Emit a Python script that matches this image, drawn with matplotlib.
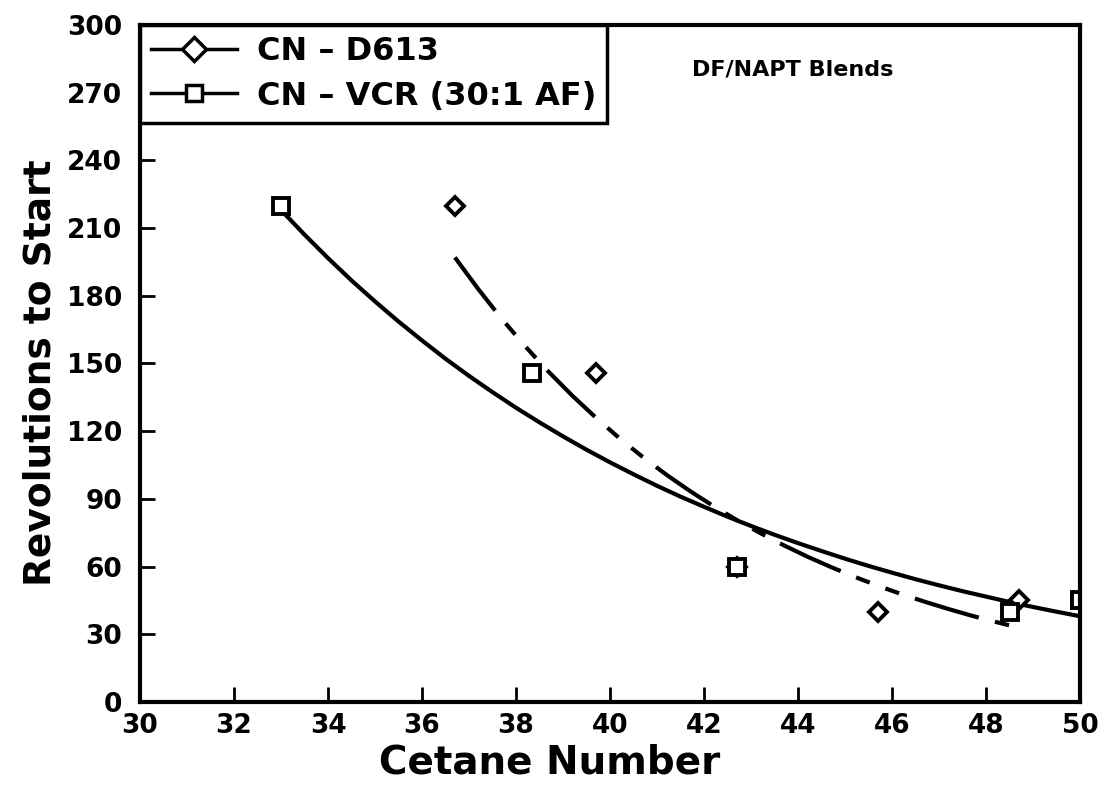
import matplotlib

matplotlib.use("Agg")
import matplotlib.pyplot as plt
from matplotlib.lines import Line2D

plt.rcParams["font.family"] = ["DejaVu Sans"]
plt.rcParams["font.weight"] = "bold"

# Measured points (Cetane Number, Revolutions to Start)
d613_cn = [36.7, 39.7, 42.7, 45.7, 48.7]
d613_rev = [220, 146, 60, 40, 45]
vcr_cn = [33.0, 38.35, 42.7, 48.5, 50.0]
vcr_rev = [220, 146, 60, 40, 45]

# Fitted curves
vcr_fit_cn = [33, 33.5, 34, 34.5, 35, 35.5, 36, 36.5, 37, 37.5, 38, 38.5,
              39, 39.5, 40, 40.5, 41, 41.5, 42, 42.5, 43, 43.5, 44, 44.5,
              45, 45.5, 46, 46.5, 47, 47.5, 48, 48.5, 49, 49.5, 50]
vcr_fit_rev = [218, 207.1, 196.7, 186.8, 177.5, 168.6, 160.2, 152.1, 144.5,
               137.3, 130.4, 123.9, 117.7, 111.8, 106.2, 100.9, 95.8, 91.0,
               86.5, 82.1, 78.0, 74.1, 70.4, 66.9, 63.5, 60.3, 57.3, 54.4,
               51.7, 49.1, 46.7, 44.3, 42.1, 40.0, 38.0]
d613_fit_cn = [36.7, 37.2, 37.7, 38.2, 38.7, 39.2, 39.7, 40.2, 40.7, 41.2,
               41.7, 42.2, 42.7, 43.2, 43.7, 44.2, 44.7, 45.2, 45.7, 46.2,
               46.7, 47.2, 47.7, 48.2, 48.7]
d613_fit_rev = [197, 182.9, 169.7, 157.5, 146.2, 135.7, 126.0, 116.9, 108.5,
                100.7, 93.5, 86.8, 80.6, 74.8, 69.4, 64.4, 59.8, 55.5, 51.5,
                47.8, 44.4, 41.2, 38.2, 35.5, 32.9]

x_ticks = list(range(30, 51, 2))
y_ticks = list(range(0, 301, 30))

fig = plt.figure(figsize=(11.05, 7.89), dpi=100)
ax = fig.add_axes([0.1267, 0.1103, 0.8507, 0.858])

ax.plot(vcr_fit_cn, vcr_fit_rev, color="black", lw=3)
ax.plot(d613_fit_cn, d613_fit_rev, color="black", lw=3,
        dashes=(16, 4, 3.5, 4, 3.5, 4))

ax.plot(d613_cn, d613_rev, ls="none", marker="D", ms=9, mfc="white",
        mec="black", mew=2.8)
ax.plot(vcr_cn, vcr_rev, ls="none", marker="s", ms=11, mfc="white",
        mec="black", mew=2.8)

# legend handles show a line through the marker
handles = [
    Line2D([], [], color="black", lw=2.5, marker="D", ms=12, mfc="white",
           mec="black", mew=2.5),
    Line2D([], [], color="black", lw=2.5, marker="s", ms=12, mfc="white",
           mec="black", mew=2.5),
]
leg = ax.legend(handles, ["CN \u2013 D613", "CN \u2013 VCR (30:1 AF)"],
                loc="upper left", borderaxespad=0, fancybox=False,
                framealpha=1, edgecolor="black", handlelength=2.7,
                labelspacing=0.42, borderpad=0.35, handletextpad=0.6,
                prop={"size": 23, "weight": "bold"})
leg.get_frame().set_linewidth(2.5)

ax.text(0.587, 0.934, "DF/NAPT Blends", transform=ax.transAxes,
        fontsize=16, fontweight="bold", va="center", ha="left")

ax.set_xlim(30, 50)
ax.set_ylim(0, 300)
ax.set_xticks(x_ticks)
ax.set_yticks(y_ticks)
ax.tick_params(direction="in", length=11, width=2, labelsize=19,
               top=False, right=False)
ax.tick_params(axis="x", pad=8)
ax.tick_params(axis="y", pad=13)
for lab in ax.get_xticklabels() + ax.get_yticklabels():
    lab.set_fontweight("bold")
for sp in ax.spines.values():
    sp.set_linewidth(3)

ax.set_xlabel("Cetane Number", fontsize=28, fontweight="bold")
ax.set_ylabel("Revolutions to Start", fontsize=27, fontweight="bold")
ax.xaxis.set_label_coords(0.436, -0.062)
ax.yaxis.set_label_coords(-0.087, 0.487)

fig.savefig("out.png", dpi=100)
